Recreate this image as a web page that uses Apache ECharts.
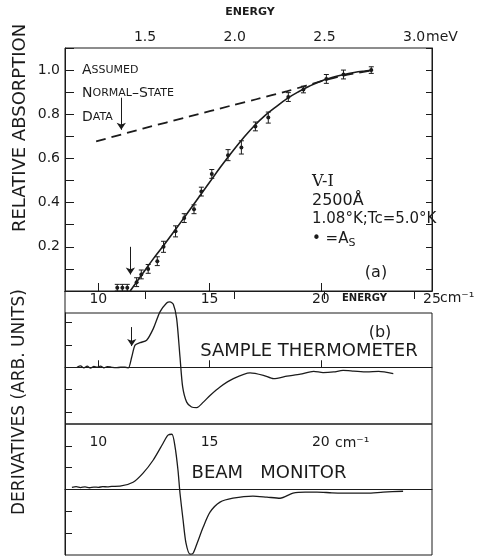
<!DOCTYPE html>
<html lang="en">
  <head>
    <meta charset="UTF-8" />
    <title>V-I absorption edge</title>
    <script src="https://cdn.jsdelivr.net/npm/echarts@6/dist/echarts.min.js"></script>
  </head>
  <body style="margin: 0; background: #fff">
    <div id="main" style="width: 477px; height: 558px"></div>
    <script>
      var CM_PER_MEV = 8.0655;
      var X_MIN = 8.5;
      var X_MAX = 25;
      var cmTicks = [10, 15, 20];
      var cmLabels = [10, 15, 20, 25];
      var mevTicks = [1.5, 2.0, 2.5, 3.0];
      var derivTicks = [-2, -1, 1, 2];

      // (a) relative absorption, measured points with error bars
      var absX = [10.85, 11.08, 11.3, 11.72, 11.93, 12.24, 12.65, 12.93, 13.47, 13.86, 14.3, 14.63, 15.1, 15.83, 16.43, 17.06, 17.64, 18.54, 19.22, 20.25, 21.02, 22.27];
      var absY = [0.015, 0.015, 0.015, 0.04, 0.075, 0.1, 0.135, 0.2, 0.27, 0.33, 0.37, 0.45, 0.53, 0.615, 0.65, 0.745, 0.785, 0.878, 0.912, 0.96, 0.98, 1.0];
      var absErr = [0.015, 0.015, 0.015, 0.02, 0.02, 0.02, 0.02, 0.025, 0.025, 0.02, 0.02, 0.02, 0.02, 0.025, 0.03, 0.02, 0.025, 0.02, 0.015, 0.02, 0.02, 0.015];
      // (a) solid fitted curve
      var fitX = [11.43, 12, 12.5, 13, 13.5, 14, 14.5, 15, 15.5, 16, 16.5, 17, 17.5, 18, 18.5, 19, 19.5, 20, 20.5, 21, 21.5, 22, 22.35];
      var fitY = [0, 0.08, 0.15, 0.215, 0.283, 0.352, 0.422, 0.492, 0.562, 0.628, 0.69, 0.747, 0.795, 0.835, 0.872, 0.902, 0.928, 0.95, 0.966, 0.979, 0.989, 0.996, 1.0];
      // (a) dashed: assumed normal-state data
      var normalX = [9.9, 12, 14.1, 16, 17.1, 18.5, 19.35, 20.2, 21, 22.35];
      var normalY = [0.677, 0.735, 0.79, 0.84, 0.868, 0.905, 0.93, 0.955, 0.975, 1.0];

      // (b) sample thermometer derivative
      var sampleX = [9.04, 9.2, 9.35, 9.5, 9.65, 9.8, 9.95, 10.1, 10.25, 10.4, 10.6, 10.8, 11.0, 11.2, 11.35, 11.5, 11.65, 11.87, 12.17, 12.47, 12.77, 13.07, 13.22, 13.37, 13.52, 13.67, 13.79, 13.97, 14.19, 14.42, 14.72, 15.02, 15.47, 16.07, 16.82, 17.42, 17.88, 18.48, 19.08, 19.68, 20.1, 20.58, 21.0, 21.48, 22.08, 22.6, 23.26];
      var sampleY = [0.0, 0.06, -0.03, 0.05, -0.04, 0.04, 0.0, 0.05, -0.03, 0.03, 0.0, -0.02, 0.0, 0.0, -0.03, 0.46, 0.99, 1.1, 1.21, 1.73, 2.48, 2.88, 2.93, 2.82, 2.18, 0.46, -0.88, -1.56, -1.78, -1.81, -1.56, -1.26, -0.88, -0.51, -0.25, -0.36, -0.51, -0.4, -0.31, -0.18, -0.24, -0.21, -0.14, -0.17, -0.21, -0.18, -0.28];

      // (c) beam monitor derivative
      var beamX = [8.81, 9.0, 9.2, 9.4, 9.6, 9.8, 10.0, 10.2, 10.4, 10.6, 10.97, 11.56, 12.01, 12.46, 12.91, 13.13, 13.31, 13.45, 13.58, 13.67, 13.81, 13.94, 14.12, 14.26, 14.44, 14.71, 15.02, 15.47, 16.05, 16.95, 17.58, 18.17, 18.75, 19.3, 19.83, 20.5, 21.31, 22.08, 22.8, 23.7];
      var beamY = [0.1, 0.13, 0.09, 0.12, 0.08, 0.11, 0.1, 0.13, 0.12, 0.14, 0.15, 0.33, 0.75, 1.34, 2.12, 2.49, 2.53, 1.94, 0.88, -0.17, -1.41, -2.46, -2.96, -2.92, -2.46, -1.73, -1.04, -0.58, -0.4, -0.3, -0.35, -0.4, -0.17, -0.12, -0.12, -0.15, -0.17, -0.17, -0.12, -0.08];

      var INK = '#1b1b1b';
      var FONT = 'DejaVu Sans';

      function pairs(xs, ys) {
        return xs.map(function (x, i) {
          return [x, ys[i]];
        });
      }

      var mChart = echarts.init(document.getElementById('main'));

      var axisLine = { show: true, lineStyle: { color: INK, width: 1 } };
      var labelStyle = { color: INK, fontFamily: FONT, fontSize: 14 };
      // small caps: big first letter, smaller rest
      var capsRich = { b: { fontSize: 14, fontFamily: FONT }, s: { fontSize: 11, fontFamily: FONT } };

      var option = {
        backgroundColor: '#fff',
        animation: false,
        grid: [
          { left: 65, top: 48, width: 367, height: 243, show: true, borderColor: INK, borderWidth: 1 },
          { left: 65, top: 313, width: 367, height: 111, show: true, borderColor: INK, borderWidth: 1 },
          { left: 65, top: 424, width: 367, height: 131, show: true, borderColor: INK, borderWidth: 1 },
        ],
        xAxis: [
          {
            gridIndex: 0, type: 'value', position: 'bottom', min: X_MIN, max: X_MAX,
            axisLine: axisLine, splitLine: { show: false },
            axisTick: { inside: true, length: 8, customValues: cmTicks, lineStyle: { color: INK } },
            axisLabel: Object.assign({ customValues: cmLabels, margin: 1 }, labelStyle),
          },
          {
            gridIndex: 0, type: 'value', position: 'top', min: X_MIN / CM_PER_MEV, max: X_MAX / CM_PER_MEV,
            axisLine: axisLine, splitLine: { show: false },
            axisTick: { inside: true, length: 8, customValues: mevTicks, lineStyle: { color: INK } },
            axisLabel: Object.assign({ customValues: mevTicks, margin: 4, formatter: function (v) { return v.toFixed(1); } }, labelStyle),
          },
          {
            gridIndex: 1, type: 'value', position: 'bottom', min: X_MIN, max: X_MAX,
            axisLine: axisLine, splitLine: { show: false },
            axisTick: { inside: true, length: 7, customValues: cmTicks, lineStyle: { color: INK } },
            axisLabel: { show: false },
          },
          {
            gridIndex: 2, type: 'value', position: 'top', min: X_MIN, max: X_MAX,
            axisLine: axisLine, splitLine: { show: false },
            axisTick: { show: false },
            axisLabel: Object.assign({ inside: true, customValues: cmTicks, margin: 11 }, labelStyle),
          },
        ],
        yAxis: [
          {
            gridIndex: 0, type: 'value', position: 'left', min: 0, max: 1.1, interval: 0.1,
            axisLine: axisLine, splitLine: { show: false },
            axisTick: { inside: true, length: 9, lineStyle: { color: INK } },
            axisLabel: Object.assign({
              margin: 5,
              formatter: function (v) {
                var t = Math.round(v * 10);
                return t > 0 && t <= 10 && t % 2 === 0 ? (t / 10).toFixed(1) : '';
              },
            }, labelStyle),
          },
          {
            gridIndex: 0, type: 'value', position: 'right', min: 0, max: 1.1, interval: 0.1,
            axisLine: axisLine, splitLine: { show: false },
            axisTick: { inside: true, length: 6, lineStyle: { color: INK } },
            axisLabel: { show: false },
          },
          {
            gridIndex: 1, type: 'value', position: 'left', min: -2.54, max: 2.43,
            axisLine: axisLine, splitLine: { show: false },
            axisTick: { inside: true, length: 7, customValues: derivTicks, lineStyle: { color: INK } },
            axisLabel: { show: false },
          },
          {
            gridIndex: 2, type: 'value', position: 'left', min: -3, max: 3,
            axisLine: axisLine, splitLine: { show: false },
            axisTick: { inside: true, length: 7, customValues: derivTicks, lineStyle: { color: INK } },
            axisLabel: { show: false },
          },
        ],
        series: [
          {
            name: 'fit', type: 'line', xAxisIndex: 0, yAxisIndex: 0,
            data: pairs(fitX, fitY), smooth: 0.4, showSymbol: false,
            lineStyle: { color: INK, width: 1.6 },
            markLine: {
              silent: true, symbol: ['none', 'arrow'], symbolSize: 7,
              label: { show: false }, lineStyle: { color: INK, width: 1, type: 'solid' },
              data: [
                [{ coord: [11.44, 0.2] }, { coord: [11.44, 0.075] }],
                [{ coord: [11.03, 0.875] }, { coord: [11.03, 0.73] }],
              ],
            },
          },
          {
            name: 'normal', type: 'line', xAxisIndex: 0, yAxisIndex: 0,
            data: pairs(normalX, normalY), smooth: 0.3, showSymbol: false,
            lineStyle: { color: INK, width: 1.8, type: [10, 6] },
          },
          {
            name: 'As', type: 'custom', xAxisIndex: 0, yAxisIndex: 0,
            data: absX.map(function (x, i) { return [x, absY[i], absErr[i]]; }),
            encode: { x: 0, y: 1 },
            renderItem: function (params, api) {
              var x = api.value(0), y = api.value(1), e = api.value(2);
              var p = api.coord([x, y]);
              var hi = api.coord([x, y + e]);
              var lo = api.coord([x, y - e]);
              var st = { stroke: INK, lineWidth: 1 };
              return {
                type: 'group',
                children: [
                  { type: 'line', shape: { x1: p[0], y1: hi[1], x2: p[0], y2: lo[1] }, style: st },
                  { type: 'line', shape: { x1: p[0] - 2.5, y1: hi[1], x2: p[0] + 2.5, y2: hi[1] }, style: st },
                  { type: 'line', shape: { x1: p[0] - 2.5, y1: lo[1], x2: p[0] + 2.5, y2: lo[1] }, style: st },
                  { type: 'circle', shape: { cx: p[0], cy: p[1], r: 2 }, style: { fill: INK } },
                ],
              };
            },
          },
          {
            name: 'sample', type: 'line', xAxisIndex: 2, yAxisIndex: 2,
            data: pairs(sampleX, sampleY), smooth: 0.25, showSymbol: false, clip: false,
            lineStyle: { color: INK, width: 1.3 },
            markLine: {
              silent: true, symbol: ['none', 'none'], symbolSize: 7,
              label: { show: false }, lineStyle: { color: INK, width: 1, type: 'solid' },
              data: [
                { yAxis: 0 },
                [{ coord: [11.5, 1.8], symbol: 'none' }, { coord: [11.5, 0.95], symbol: 'arrow' }],
              ],
            },
          },
          {
            name: 'beam', type: 'line', xAxisIndex: 3, yAxisIndex: 3,
            data: pairs(beamX, beamY), smooth: 0.25, showSymbol: false, clip: false,
            lineStyle: { color: INK, width: 1.3 },
            markLine: {
              silent: true, symbol: ['none', 'none'],
              label: { show: false }, lineStyle: { color: INK, width: 1, type: 'solid' },
              data: [{ yAxis: 0 }],
            },
          },
        ],
        graphic: [
          // left border joins panel (a) and panel (b)
          { type: 'line', shape: { x1: 65, y1: 291, x2: 65, y2: 313 }, style: { stroke: INK, lineWidth: 1 } },
          { type: 'text', x: 250, y: 12, style: { text: 'ENERGY', font: 'bold 11px ' + FONT, fill: INK, textAlign: 'center', textVerticalAlign: 'middle' } },
          { type: 'text', x: 426, y: 37, style: { text: 'meV', font: '14px ' + FONT, fill: INK, textAlign: 'left', textVerticalAlign: 'middle' } },
          { type: 'text', x: 20, y: 128, rotation: Math.PI / 2, style: { text: 'RELATIVE ABSORPTION', font: '18px ' + FONT, fill: INK, textAlign: 'center', textVerticalAlign: 'middle' } },
          { type: 'text', x: 20, y: 402, rotation: Math.PI / 2, style: { text: 'DERIVATIVES (ARB. UNITS)', font: '17px ' + FONT, fill: INK, textAlign: 'center', textVerticalAlign: 'middle' } },
          { type: 'text', x: 82, y: 70, style: { text: '{b|A}{s|SSUMED}', fill: INK, textVerticalAlign: 'middle', rich: capsRich } },
          { type: 'text', x: 82, y: 93, style: { text: '{b|N}{s|ORMAL}{b|–S}{s|TATE}', fill: INK, textVerticalAlign: 'middle', rich: capsRich } },
          { type: 'text', x: 82, y: 117, style: { text: '{b|D}{s|ATA}', fill: INK, textVerticalAlign: 'middle', rich: capsRich } },
          { type: 'text', x: 312, y: 182, style: { text: 'V-I', font: '16px DejaVu Serif', fill: INK, textVerticalAlign: 'middle' } },
          { type: 'text', x: 312, y: 201, style: { text: '2500Å', font: '16px ' + FONT, fill: INK, textVerticalAlign: 'middle' } },
          { type: 'text', x: 312, y: 219, style: { text: '1.08°K;Tc=5.0°K', font: '15px ' + FONT, fill: INK, textVerticalAlign: 'middle' } },
          {
            type: 'text', x: 312, y: 239,
            style: { text: '{n|• =A}{sub|S}', fill: INK, textVerticalAlign: 'middle', rich: { n: { fontSize: 15, fontFamily: FONT }, sub: { fontSize: 11, fontFamily: FONT, padding: [9, 0, 0, 0] } } },
          },
          { type: 'text', x: 376, y: 273, style: { text: '(a)', font: '16px ' + FONT, fill: INK, textAlign: 'center', textVerticalAlign: 'middle' } },
          { type: 'text', x: 342, y: 298, style: { text: 'ENERGY', font: 'bold 10px ' + FONT, fill: INK, textVerticalAlign: 'middle' } },
          { type: 'text', x: 440, y: 298, style: { text: 'cm⁻¹', font: '14px ' + FONT, fill: INK, textVerticalAlign: 'middle' } },
          { type: 'text', x: 380, y: 333, style: { text: '(b)', font: '16px ' + FONT, fill: INK, textAlign: 'center', textVerticalAlign: 'middle' } },
          { type: 'text', x: 309, y: 351, style: { text: 'SAMPLE THERMOMETER', font: '18px ' + FONT, fill: INK, textAlign: 'center', textVerticalAlign: 'middle' } },
          { type: 'text', x: 335, y: 443, style: { text: 'cm⁻¹', font: '14px ' + FONT, fill: INK, textVerticalAlign: 'middle' } },
          { type: 'text', x: 269, y: 473, style: { text: 'BEAM   MONITOR', font: '18px ' + FONT, fill: INK, textAlign: 'center', textVerticalAlign: 'middle' } },
        ],
      };

      mChart.setOption(option);
    </script>
  </body>
</html>
